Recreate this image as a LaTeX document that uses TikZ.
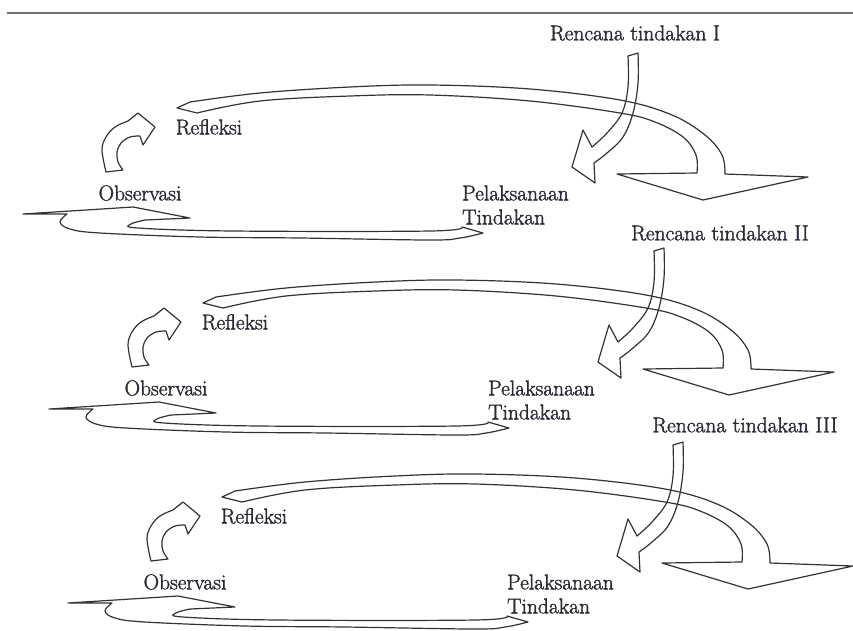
\documentclass[tikz,border=0pt]{standalone}
\usepackage{fontspec}
\setmainfont{Latin Modern Roman}[FakeBold=1.6]
\definecolor{ink}{HTML}{333333}
\definecolor{txt}{HTML}{2A2A36}
\tikzset{
  blk/.style={draw=ink, line width=1.2pt, line join=round},
  lbl/.style={text=txt, font=\fontsize{21.5}{24}\selectfont, inner sep=0pt},
  rule/.style={draw=black!55, line width=1.4pt},
}
\newcommand\prcycle[1]{%
  % upper band arrow (head points down)
  \draw[blk] (177,108) -- plot[smooth, tension=0.6] coordinates {(190,102) (260,93) (350,87) (430,85) (530,89) (620,100) (672,115) (705,135) (722,155) (725,174)}
     -- (808,177) -- (703,200) -- (617,174)
     -- plot[smooth, tension=0.6] coordinates {(697,173) (696,155) (683,137) (655,122) (620,113) (530,101) (430,95) (350,96) (260,101) (197,113)} -- cycle;
  % curved arrow from Rencana down to Pelaksanaan
  \draw[blk] plot[smooth, tension=0.6] coordinates {(628,56) (628,87) (622,113) (607,133) (592,147)}
     -- (583,130) -- (572,167) -- (595,183)
     -- plot[smooth, tension=0.6] coordinates {(594,163) (607,153) (623,137) (633,113) (638,83) (638,53)} -- cycle;
  % small arrow Observasi -> Refleksi
  \draw[blk] plot[smooth, tension=0.6] coordinates {(106,172) (102,150) (106,137) (115,127) (128,121)}
     -- (138,113) -- (155,127) -- (143,145)
     -- plot[smooth, tension=0.6] coordinates {(140,136) (130,137) (121,143) (117,152) (118,162) (123,170)} -- cycle;
  % lower band arrow: Pelaksanaan -> Observasi
  \draw[blk] plot[smooth, tension=0.6] coordinates {(483,233) (460,238) (430,240) (300,238) (200,237) (100,233) (70,229) (60,222) (67,214)}
     -- (23,214) -- (133,207) -- (190,218)
     -- plot[smooth, tension=0.6] coordinates {(145,220) (131,224) (138,228) (233,231) (430,231) (462,227)} -- cycle;
  % labels
  \node[lbl] (refl#1) at (209,127) {Refleksi};
  \node[lbl] (obs#1) at (140,193) {Observasi};
  \node[lbl, anchor=west] (pel#1) at (462,193) {Pelaksanaan};
  \node[lbl, anchor=west] (tin#1) at (462,217) {Tindakan};
}
\begin{document}
\begin{tikzpicture}[x=1pt, y=-1pt]
  \fill[white] (0,0) rectangle (853,630);
  \useasboundingbox (0,0) rectangle (853,630);
  \coordinate (ruleL) at (7,13);
  \coordinate (ruleR) at (853,13);
  \draw[rule] (ruleL) -- (ruleR);

  \begin{scope}
    \prcycle{A}
  \end{scope}
  \begin{scope}[shift={(26,195)}]
    \prcycle{B}
  \end{scope}
  \begin{scope}[shift={(45,389)}]
    \prcycle{C}
  \end{scope}

  \node[lbl] (renA) at (635,33) {Rencana tindakan I};
  \node[lbl] (renB) at (720,233) {Rencana tindakan II};
  \node[lbl] (renC) at (745,425) {Rencana tindakan III};
\end{tikzpicture}
\end{document}
